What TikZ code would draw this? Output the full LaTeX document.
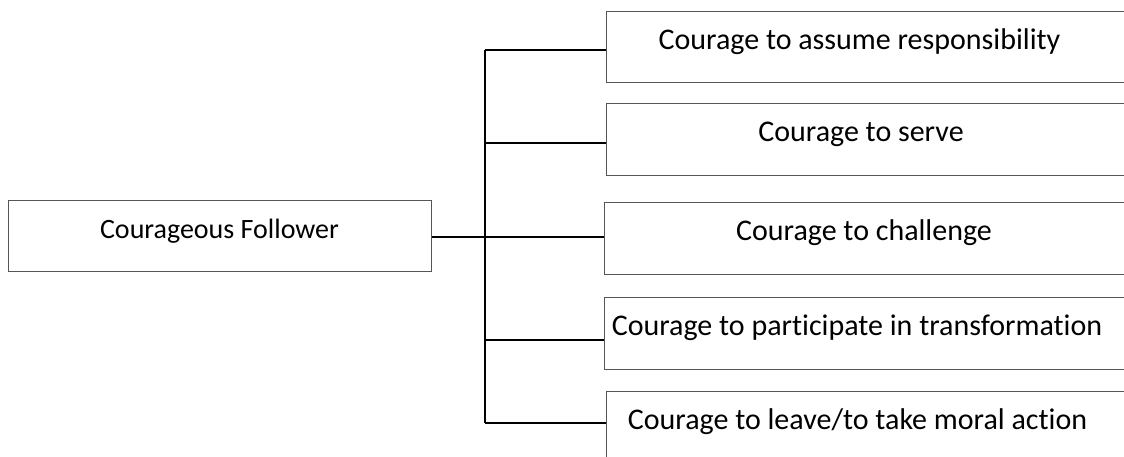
\documentclass[tikz,border=0pt]{standalone}
\usepackage{fontspec}
\setmainfont{Carlito}[Ligatures=NoCommon]
\definecolor{boxgray}{HTML}{555555}
\begin{document}
\begin{tikzpicture}[x=1pt,y=-1pt,
  box/.style={draw=boxgray, line width=1pt, inner sep=0pt, anchor=north west,
              minimum height=72pt},
  rbox/.style={box, minimum width=560pt},
  lbl/.style={font=\fontsize{28}{30}\selectfont, anchor=base, inner sep=0pt},
  rlbl/.style={lbl, font=\fontsize{30}{32}\selectfont},
  link/.style={line width=1.7pt, black}]
\useasboundingbox (0,0) rectangle (1124,457);
\clip (0,0) rectangle (1124,457);

% root box
\node[box, minimum width=423pt, minimum height=71pt] (cf) at (8,200) {};
\node[lbl] (t0) at (219.5,238) {Courageous Follower};

% branch boxes
\node[rbox, minimum height=71pt] (b1) at (605.5,11)  {};
\node[rbox] (b2) at (606,102.7)  {};
\node[rbox] (b3) at (604,201.7)  {};
\node[rbox] (b4) at (604,296.7)  {};
\node[rbox] (b5) at (606,390.7)  {};

\node[rlbl] (t1) at (859.5,49.5)  {Courage to assume responsibility};
\node[rlbl] (t2) at (861,141.5)   {Courage to serve};
\node[rlbl] (t3) at (864,240.5)   {Courage to challenge};
\node[rlbl] (t4) at (857,335.5)   {Courage to participate in transformation};
\node[rlbl] (t5) at (857.5,429.5) {Courage to leave/to take moral action};

% junctions on the vertical bus
\coordinate (j1) at (485,50);
\coordinate (j2) at (485,142.7);
\coordinate (j3) at (485,237.3);
\coordinate (j4) at (485,340);
\coordinate (j5) at (485,422.7);

\draw[link] (j1) -- (j5);
\draw[link] (cf.east |- j3) -- (j3 -| b3.west);
\draw[link] (j1) -- (j1 -| b1.west);
\draw[link] (j2) -- (j2 -| b2.west);
\draw[link] (j4) -- (j4 -| b4.west);
\draw[link, line width=2.2pt] (j5) -- (j5 -| b5.west);
\end{tikzpicture}
\end{document}
